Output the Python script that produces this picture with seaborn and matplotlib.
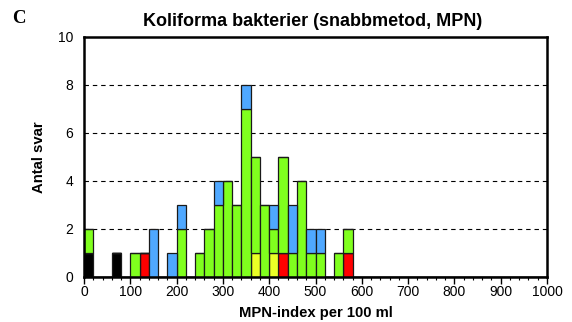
import numpy as np
import pandas as pd
import matplotlib
matplotlib.use("Agg")
import matplotlib.pyplot as plt
from matplotlib.ticker import MultipleLocator
import seaborn as sns

# Bin midpoints (MPN-index per 100 ml, 20-wide bins) and number of answers per category
bin_mid = [10, 70, 110, 130, 150, 190, 210, 250, 270, 290, 310, 330, 350, 370,
           390, 410, 430, 450, 470, 490, 510, 550, 570]
n_black = [1, 1, 0, 0, 0, 0, 0, 0, 0, 0, 0, 0, 0, 0, 0, 0, 0, 0, 0, 0, 0, 0, 0]
n_red = [0, 0, 0, 1, 0, 0, 0, 0, 0, 0, 0, 0, 0, 0, 0, 0, 1, 0, 0, 0, 0, 0, 1]
n_yellow = [0, 0, 0, 0, 0, 0, 0, 0, 0, 0, 0, 0, 0, 1, 0, 1, 0, 0, 0, 0, 0, 0, 0]
n_green = [1, 0, 1, 0, 0, 0, 2, 1, 2, 3, 4, 3, 7, 4, 3, 1, 4, 1, 4, 1, 1, 1, 1]
n_blue = [0, 0, 0, 0, 2, 1, 1, 0, 0, 1, 0, 0, 1, 0, 0, 1, 0, 2, 0, 1, 1, 0, 0]

categories = ["blue", "green", "yellow", "red", "black"]
palette = {"black": "#000000", "red": "#FF0000", "yellow": "#EBFF26",
           "green": "#80FF1E", "blue": "#4FA8FF"}

counts = {"black": n_black, "red": n_red, "yellow": n_yellow,
          "green": n_green, "blue": n_blue}
rows = []
for cat in categories:
    for x, n in zip(bin_mid, counts[cat]):
        if n > 0:
            rows.append({"value": x, "kategori": cat, "antal": n})
df = pd.DataFrame(rows)

sns.set_theme(style="white")
plt.rcParams["font.family"] = ["Liberation Sans", "DejaVu Sans"]
plt.rcParams["text.color"] = "black"
plt.rcParams["axes.labelcolor"] = "black"
plt.rcParams["xtick.color"] = "black"
plt.rcParams["ytick.color"] = "black"

W, H = 572, 322
fig = plt.figure(figsize=(W / 100, H / 100), dpi=100)
ax = fig.add_axes([84 / W, 1 - 277 / H, 463 / W, 240 / H])

sns.histplot(data=df, x="value", weights="antal", hue="kategori",
             hue_order=categories, palette=palette, multiple="stack",
             binwidth=20, binrange=(0, 1000), alpha=1, edgecolor="#1a1a1a",
             linewidth=0.9, legend=False, ax=ax)

ax.set_xlim(0, 1000)
ax.set_ylim(0, 10)
ax.set_yticks(range(0, 11, 2))
ax.xaxis.set_major_locator(MultipleLocator(100))
ax.xaxis.set_minor_locator(MultipleLocator(20))
ax.tick_params(axis="x", which="major", bottom=True, direction="out",
               length=5, width=1, color="black", labelcolor="black",
               labelsize=10, pad=1)
ax.tick_params(axis="x", which="minor", bottom=True, direction="out",
               length=2.5, width=0.8, color="black")
ax.tick_params(axis="y", left=False, labelsize=10, labelcolor="black", pad=2)

for y in (2, 4, 6, 8):
    ax.axhline(y, color="black", linestyle=(0, (4, 3.5)), linewidth=0.8, zorder=0)

for side in ax.spines.values():
    side.set_visible(True)
    side.set_color("black")
    side.set_linewidth(1.8)

ax.set_xlabel("MPN-index per 100 ml", fontsize=10.7, fontweight="bold",
              labelpad=5, color="black")
ax.set_ylabel("Antal svar", fontsize=10.7, fontweight="bold", labelpad=8,
              color="black")
fig.text(313 / W, 1 - 21.5 / H, "Koliforma bakterier (snabbmetod, MPN)",
         fontsize=13, fontweight="bold", ha="center", va="center", color="black")
fig.text(19 / W, 1 - 18.5 / H, "C", family=["Liberation Serif", "DejaVu Serif"],
         fontsize=13.5, fontweight="bold", ha="center", va="center", color="black")

fig.savefig("out.png", dpi=100)
